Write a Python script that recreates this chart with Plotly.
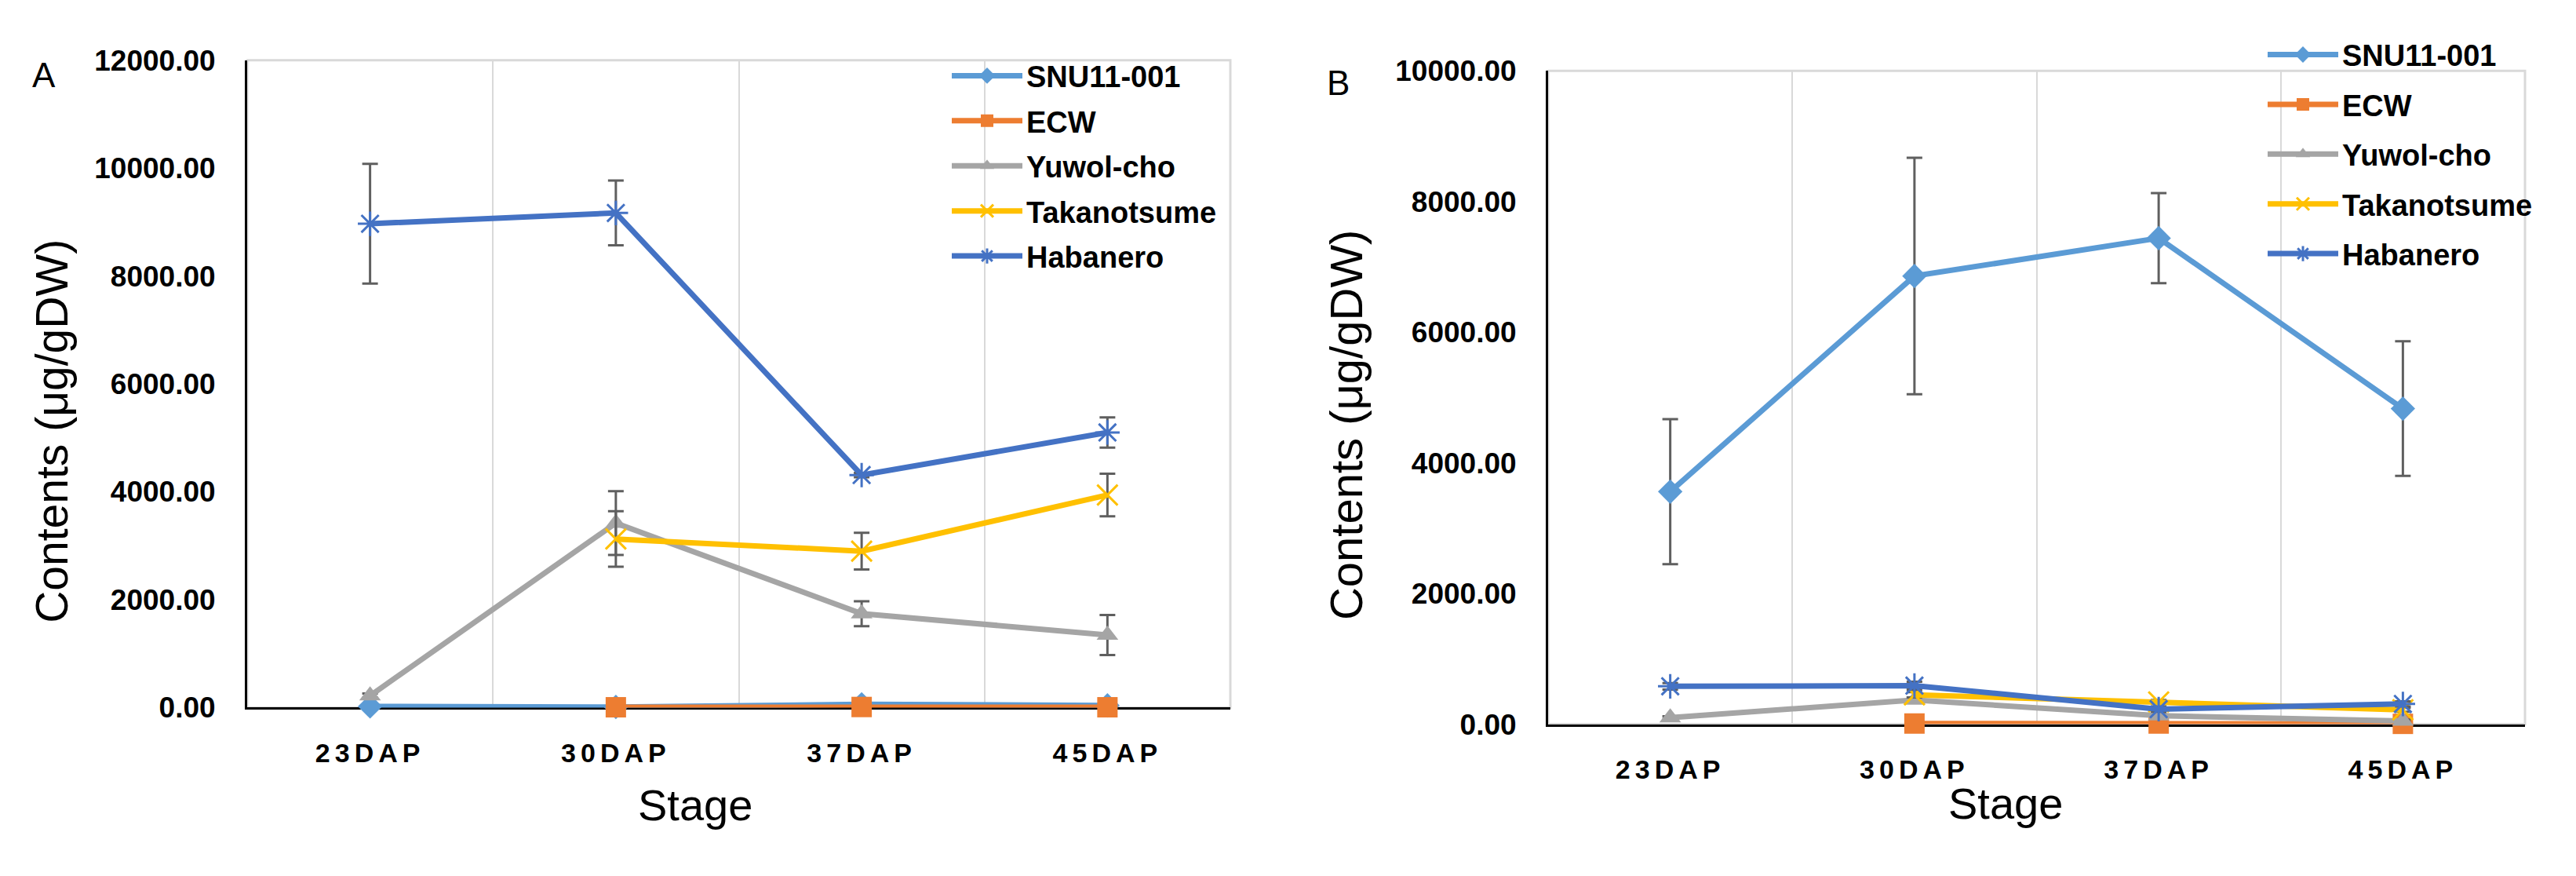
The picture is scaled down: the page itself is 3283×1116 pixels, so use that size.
import plotly.graph_objects as go

# ---------------- data ----------------
stages = ["23DAP", "30DAP", "37DAP", "45DAP"]
y_ticks_a = [0, 2000, 4000, 6000, 8000, 10000, 12000]
y_ticks_b = [0, 2000, 4000, 6000, 8000, 10000]

series_names = ["SNU11-001", "ECW", "Yuwol-cho", "Takanotsume", "Habanero"]

# Panel A values (µg/gDW) and error bars
a_snu = [20, 10, 60, 40]
a_ecw = [None, 5, 10, 5]
a_yuwol = [220, 3420, 1740, 1345]
a_takano = [None, 3125, 2900, 3940]
a_haban = [8970, 9170, 4310, 5100]

a_snu_err = [10, 10, 15, 10]
a_ecw_err = [None, 5, 5, 5]
a_yuwol_err = [40, 590, 230, 370]
a_takano_err = [None, 515, 340, 395]
a_haban_err = [1110, 600, 40, 280]

# Panel B values (µg/gDW) and error bars
b_snu = [3560, 6860, 7440, 4830]
b_ecw = [None, 10, 10, 5]
b_yuwol = [100, 370, 130, 50]
b_takano = [None, 450, 340, 220]
b_haban = [580, 590, 230, 310]

b_snu_err = [1110, 1810, 690, 1030]
b_ecw_err = [None, 5, 5, 5]
b_yuwol_err = [20, 40, 30, 20]
b_takano_err = [None, 40, 30, 30]
b_haban_err = [50, 60, 40, 40]

# ---------------- styles ----------------
colors = ["#5B9BD5", "#ED7D31", "#A5A5A5", "#FFC000", "#4472C4"]
symbols = ["diamond", "square", "triangle-up", "x-thin-open", "asterisk-open"]
msizes = [24, 26, 24, 26, 26]
FONT = "Liberation Sans, Arial, sans-serif"
ERR_COLOR = "#5f5f5f"

fig = go.Figure()

panels = [
    ("x", "y", "legend",
     [a_snu, a_ecw, a_yuwol, a_takano, a_haban],
     [a_snu_err, a_ecw_err, a_yuwol_err, a_takano_err, a_haban_err]),
    ("x2", "y2", "legend2",
     [b_snu, b_ecw, b_yuwol, b_takano, b_haban],
     [b_snu_err, b_ecw_err, b_yuwol_err, b_takano_err, b_haban_err]),
]

for xa, ya, lg, vals, errs in panels:
    for i, name in enumerate(series_names):
        fig.add_trace(go.Scatter(
            x=stages, y=vals[i], name=name, xaxis=xa, yaxis=ya, legend=lg,
            legendgroup=f"{lg}-{name}",
            mode="lines+markers", cliponaxis=False,
            line=dict(color=colors[i], width=7),
            marker=dict(symbol=symbols[i], size=msizes[i], color=colors[i],
                        line=dict(color=colors[i], width=3 if "open" in symbols[i] else 0)),
            error_y=dict(type="data", array=errs[i], visible=True,
                         color=ERR_COLOR, thickness=3, width=10),
        ))

tick_text = [f'<span style="letter-spacing:6px">{s}</span>' for s in stages]

def xaxis_cfg(domain, anchor):
    return dict(domain=domain, anchor=anchor, type="category",
                range=[-0.5, 3.5], tickvals=stages, ticktext=tick_text,
                tickson="boundaries", showgrid=True, gridcolor="#D9D9D9", gridwidth=2,
                ticks="", showline=True, linecolor="#000000", linewidth=3,
                tickfont=dict(family=FONT, size=34, color="#000000", weight="bold"),
                ticklabelstandoff=26, layer="below traces", zeroline=False)

def yaxis_cfg(domain, anchor, rng, ticks):
    return dict(domain=domain, anchor=anchor, range=rng, tickvals=ticks,
                tickformat=".2f", showgrid=False, zeroline=False, ticks="",
                showline=True, linecolor="#000000", linewidth=3,
                tickfont=dict(family=FONT, size=37, color="#000000", weight="bold"),
                ticklabelstandoff=30, layer="below traces")

W, H = 3283, 1116
fig.update_layout(
    width=W, height=H, margin=dict(l=0, r=0, t=0, b=0),
    paper_bgcolor="white", plot_bgcolor="white", showlegend=True,
    xaxis=xaxis_cfg([315 / W, 1568 / W], "y"),
    yaxis=yaxis_cfg([1 - 915 / H, 1 - 59 / H], "x", [0, 12000], y_ticks_a),
    xaxis2=xaxis_cfg([1973 / W, 3218 / W], "y2"),
    yaxis2=yaxis_cfg([1 - 937 / H, 1 - 73 / H], "x2", [0, 10000], y_ticks_b),
    legend=dict(x=1208 / W, y=1 - 47 / H, xanchor="left", yanchor="top",
                bgcolor="rgba(0,0,0,0)", itemwidth=90, tracegroupgap=5,
                font=dict(family=FONT, size=38, color="#000000", weight="bold")),
    legend2=dict(x=2885 / W, y=1 - 19 / H, xanchor="left", yanchor="top",
                 bgcolor="rgba(0,0,0,0)", itemwidth=90, tracegroupgap=11,
                 font=dict(family=FONT, size=38, color="#000000", weight="bold")),
)

# light grey plot-area frames
for xr, yr in [("x domain", "y domain"), ("x2 domain", "y2 domain")]:
    fig.add_shape(type="rect", xref=xr, yref=yr, x0=0, x1=1, y0=0, y1=1,
                  line=dict(color="#D9D9D9", width=3), layer="below")

ann_font = dict(family=FONT, color="#000000")
annotations = [
    dict(text="A", x=56 / W, y=1 - 78 / H, font=dict(size=44, **ann_font)),
    dict(text="B", x=1706 / W, y=1 - 89 / H, font=dict(size=44, **ann_font)),
    dict(text="Contents (μg/gDW)", x=66 / W, y=1 - 550 / H, textangle=-90,
         font=dict(size=57, **ann_font)),
    dict(text="Contents (μg/gDW)", x=1715 / W, y=1 - 541 / H, textangle=-90,
         font=dict(size=58, **ann_font)),
    dict(text="Stage", x=886 / W, y=1 - 1044 / H, font=dict(size=56, **ann_font)),
    dict(text="Stage", x=2556 / W, y=1 - 1042 / H, font=dict(size=56, **ann_font)),
]
for a in annotations:
    fig.add_annotation(xref="paper", yref="paper", xanchor="center", yanchor="middle",
                       showarrow=False, **a)

fig.write_html("out.html")
